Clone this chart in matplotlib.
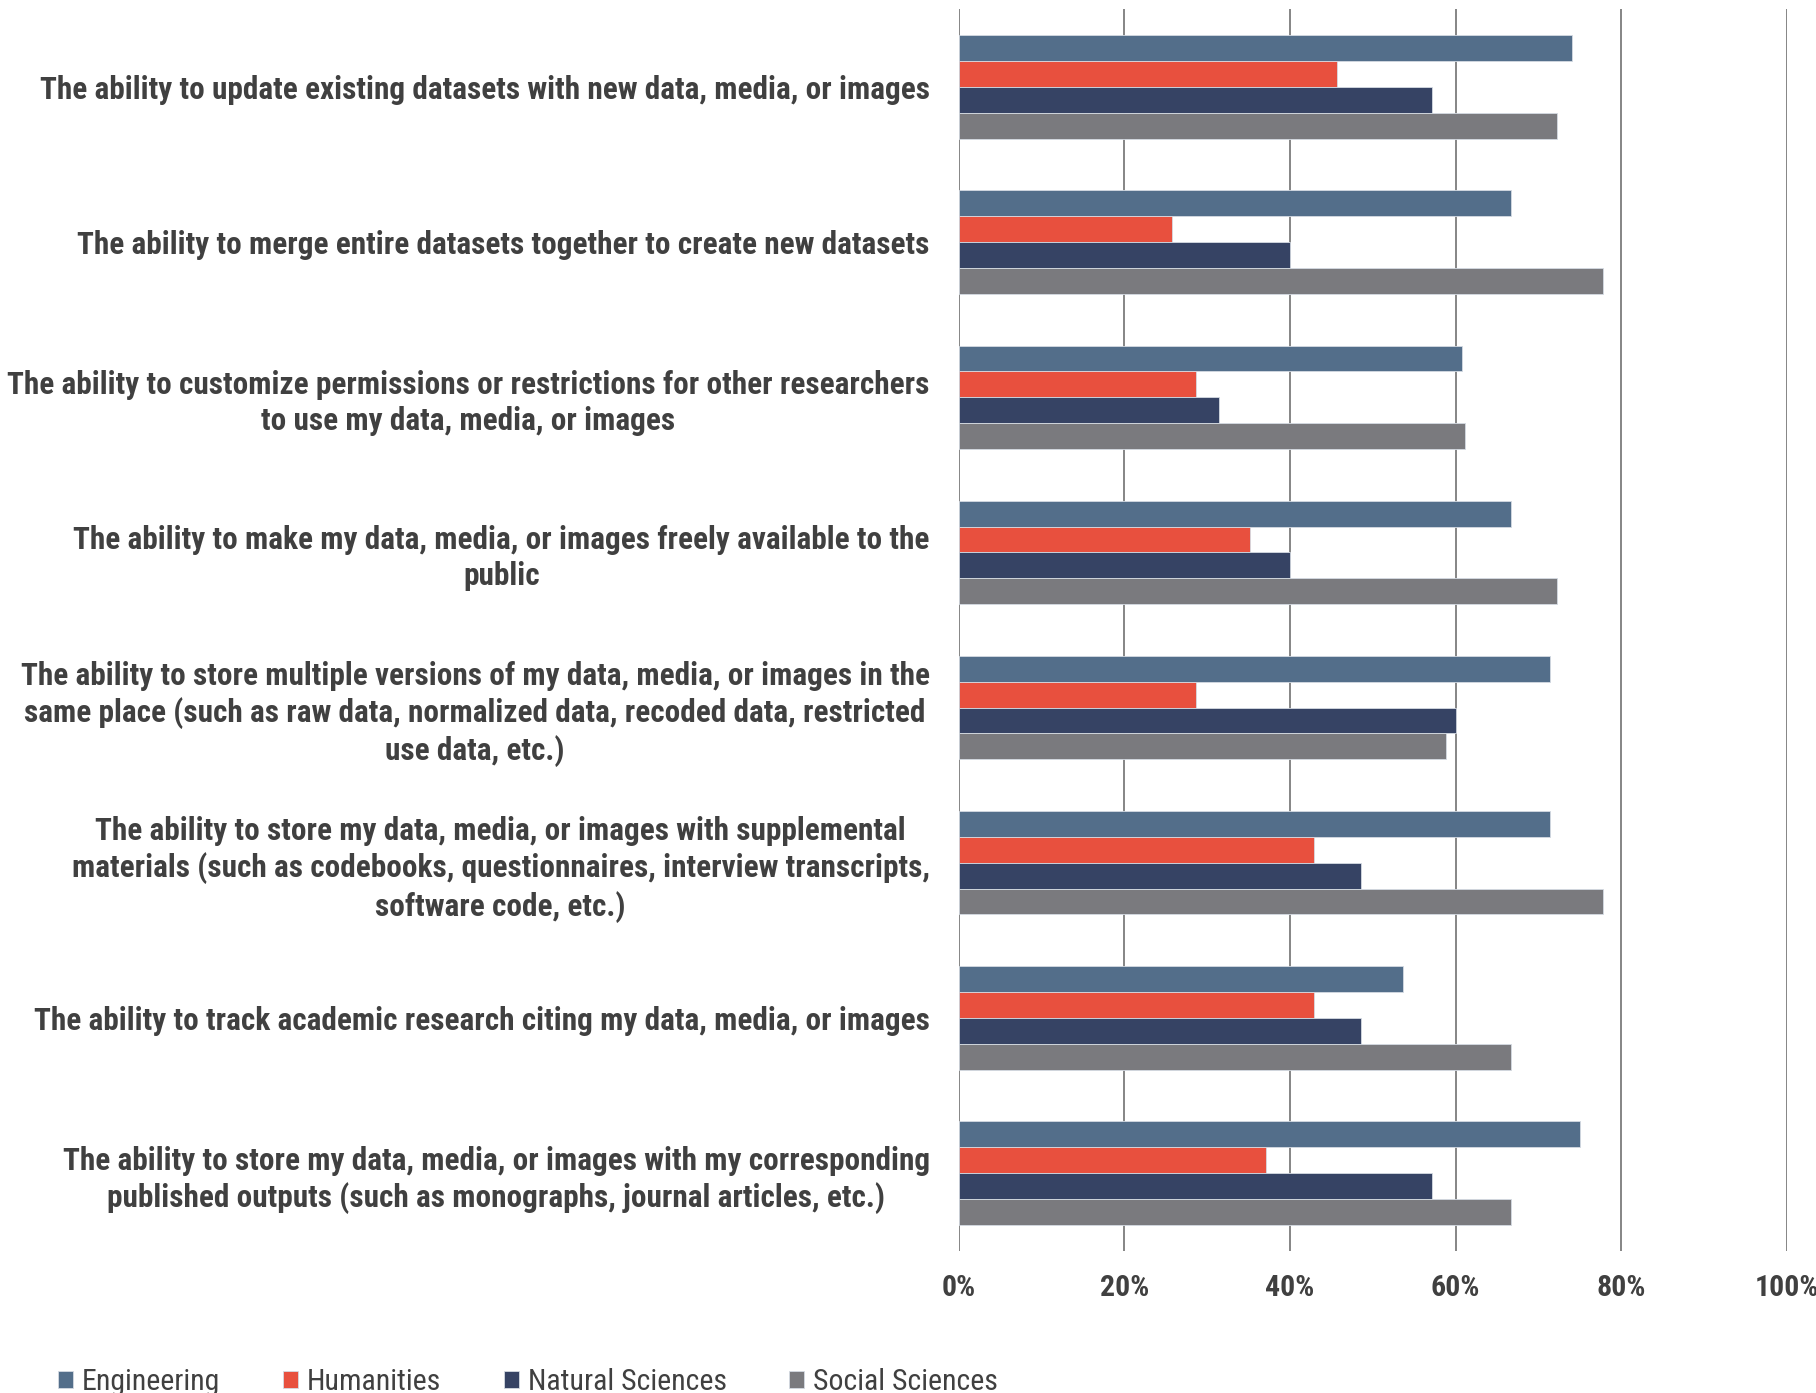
import matplotlib
matplotlib.use("Agg")
import matplotlib.pyplot as plt
import numpy as np

plt.rcParams['font.family'] = ['Roboto Condensed', 'Liberation Sans', 'DejaVu Sans']

# survey items, top to bottom
features = [
    "The ability to update existing datasets with new data, media, or images",
    "The ability to merge entire datasets together to create new datasets",
    "The ability to customize permissions or restrictions for other researchers\nto use my data, media, or images",
    "The ability to make my data, media, or images freely available to the\npublic",
    "The ability to store multiple versions of my data, media, or images in the\nsame place (such as raw data, normalized data, recoded data, restricted\nuse data, etc.)",
    "The ability to store my data, media, or images with supplemental\nmaterials (such as codebooks, questionnaires, interview transcripts,\nsoftware code, etc.)",
    "The ability to track academic research citing my data, media, or images",
    "The ability to store my data, media, or images with my corresponding\npublished outputs (such as monographs, journal articles, etc.)",
]

# percent of respondents per discipline
engineering = [74.1, 66.7, 60.7, 66.7, 71.4, 71.4, 53.6, 75.0]
humanities = [45.7, 25.7, 28.6, 35.2, 28.6, 42.9, 42.9, 37.1]
natural_sciences = [57.1, 40.0, 31.4, 40.0, 60.0, 48.6, 48.6, 57.1]
social_sciences = [72.2, 77.8, 61.1, 72.2, 58.8, 77.8, 66.7, 66.7]

groups = ["Engineering", "Humanities", "Natural Sciences", "Social Sciences"]
colors = ["#536e8a", "#e8503e", "#364364", "#7a7a7e"]
series = [engineering, humanities, natural_sciences, social_sciences]

fig = plt.figure(figsize=(18.16, 13.93), dpi=100)
ax = fig.add_axes([0.528, 0.1022, 0.456, 0.8911])

y = np.arange(len(features))
h = 1 / 6
for j, (vals, col, name) in enumerate(zip(series, colors, groups)):
    ax.barh(y + (j - 1.5) * h, vals, height=h, color=col, label=name,
            edgecolor="#d5dbe3", linewidth=0.6, zorder=3)

ax.set_xlim(0, 100)
ax.set_ylim(len(features) - 0.5, -0.5)
ax.set_xticks(np.arange(0, 101, 20))
ax.set_xticklabels([f"{v}%" for v in range(0, 101, 20)],
                   fontsize=21.5, fontweight="bold", color="#404040")
ax.set_yticks(y)
ax.set_yticklabels(features, fontsize=22.5, fontweight="bold", color="#404040",
                   multialignment="center", linespacing=1.25)
ax.tick_params(axis="y", length=0, pad=21)
ax.tick_params(axis="x", length=0, pad=17)
ax.grid(axis="x", color="#858585", linewidth=1.4, zorder=1)
for s in ax.spines.values():
    s.set_visible(False)

fig.legend(loc="center left", bbox_to_anchor=(0.0237, 0.008), ncol=4,
           frameon=False, fontsize=21.5, handlelength=0.5, handleheight=0.5,
           handletextpad=0.3, columnspacing=2.1, borderpad=0,
           labelcolor="#404040")

fig.savefig("out.png", dpi=100, facecolor="white")
